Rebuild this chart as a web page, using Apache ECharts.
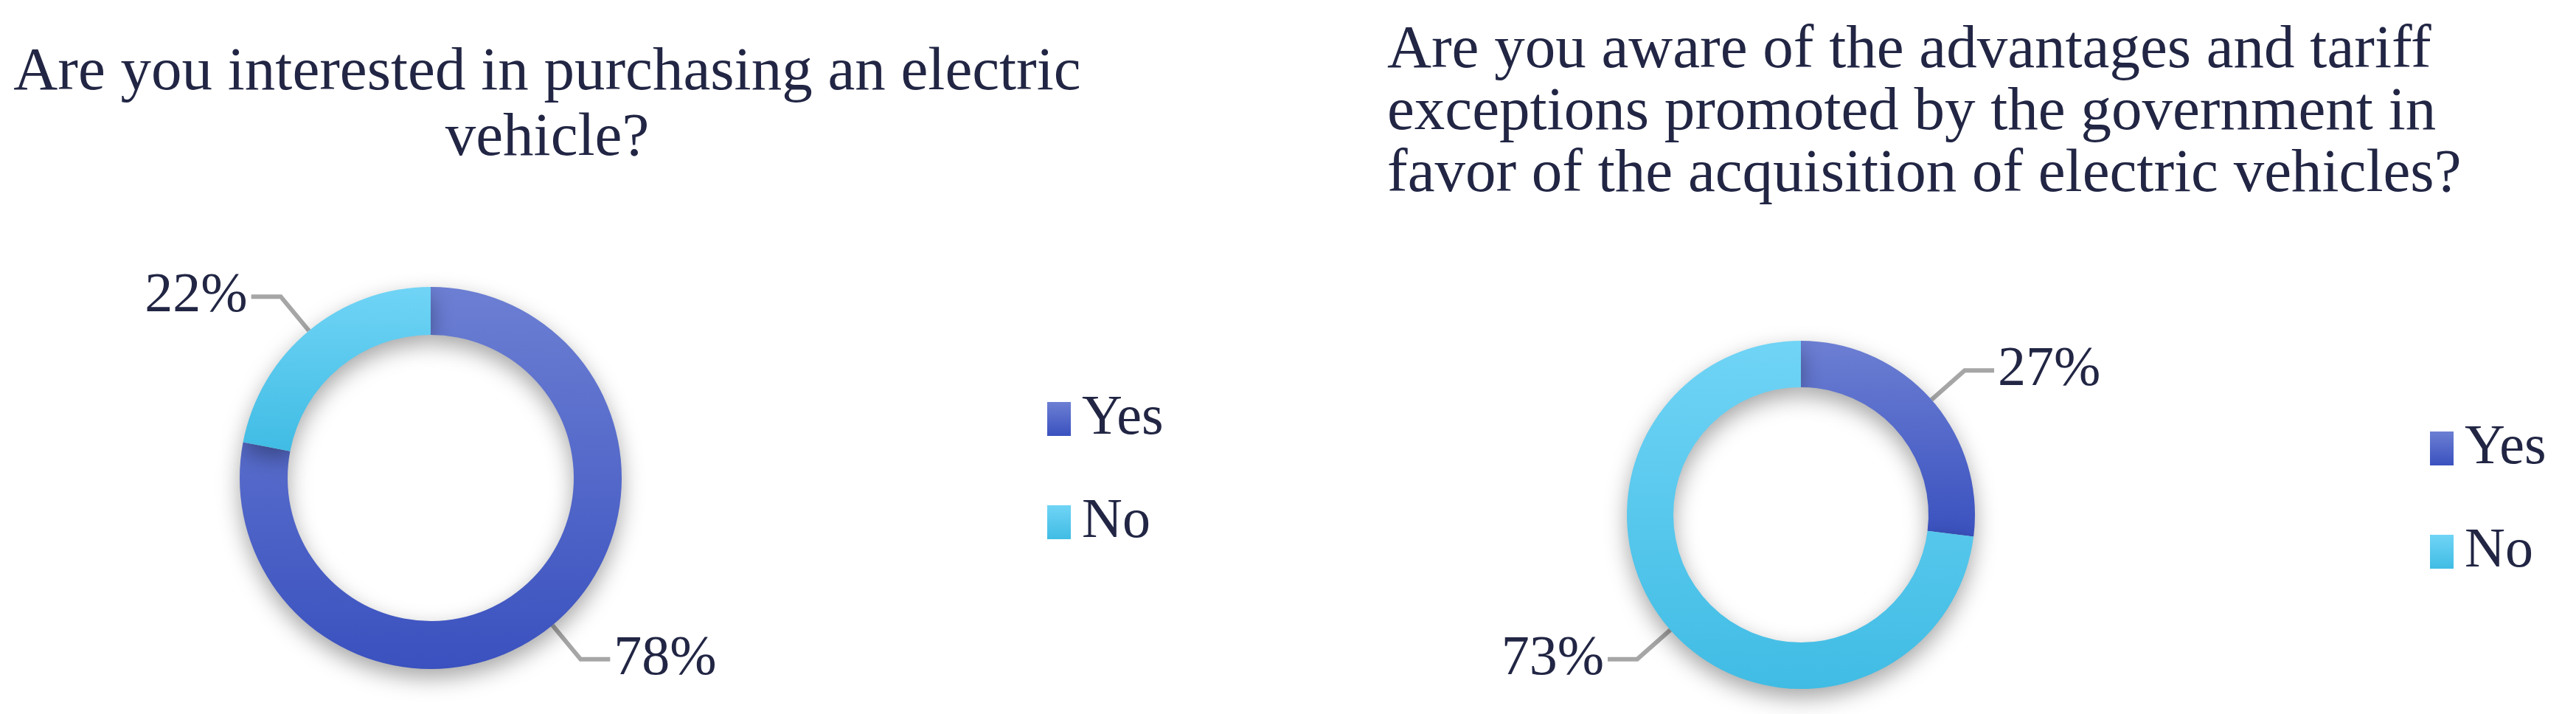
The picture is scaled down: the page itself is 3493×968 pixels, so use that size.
<!DOCTYPE html>
<html>
<head>
<meta charset="utf-8">
<script src="https://cdn.jsdelivr.net/npm/echarts@6/dist/echarts.min.js"></script>
<style>html,body{margin:0;padding:0;background:#fff}#main{width:3493px;height:968px}</style>
</head>
<body>
<div id="main"></div>
<script>
// survey answers
var categories = ['Yes', 'No'];
var interestValues = [78, 22];
var awareValues = [27, 73];
var titleLeft = 'Are you interested in purchasing an electric\nvehicle?';
var titleRight = 'Are you aware of the advantages and tariff\nexceptions promoted by the government in\nfavor of the acquisition of electric vehicles?';

var FONT = '"Liberation Serif", serif';
var INK = '#222644';

function grad(a, b) {
	return new echarts.graphic.LinearGradient(0, 0, 0, 1, [{offset: 0, color: a}, {offset: 1, color: b}]);
}
var colors = [grad('#6c7fd3', '#3a51bf'), grad('#70d4f6', '#40bce4')];

function makeData(values) {
	return categories.map(function (c, i) {
		return {name: c, value: values[i], itemStyle: {color: colors[i]}};
	});
}

function donut(center, radius, values) {
	return {
		type: 'pie',
		center: center,
		radius: radius,
		startAngle: 90,
		clockwise: true,
		avoidLabelOverlap: false,
		itemStyle: {shadowBlur: 30, shadowColor: 'rgba(0,0,0,0.35)', shadowOffsetY: 12},
		label: {
			show: true,
			formatter: '{c}%',
			fontFamily: FONT,
			fontSize: 76,
			color: INK
		},
		labelLine: {show: true, length: 60, length2: 40, lineStyle: {color: '#a6a6a6', width: 6}},
		data: makeData(values)
	};
}

function legend(left, top) {
	return {data: categories, orient: 'vertical', left: left, top: top, icon: 'rect',
		itemWidth: 32, itemHeight: 46, itemGap: 64,
		textStyle: {fontFamily: FONT, fontSize: 76, color: INK, padding: [0, 0, 0, 10]}};
}

var chart = echarts.init(document.getElementById('main'));
chart.setOption({
	animation: false,
	title: [
		{text: titleLeft, left: 737, top: 50, textAlign: 'center',
			textStyle: {fontFamily: FONT, fontWeight: 'normal', fontSize: 83, lineHeight: 89, color: INK, align: 'center'}},
		{text: titleRight, left: 1876, top: 22,
			textStyle: {fontFamily: FONT, fontWeight: 'normal', fontSize: 83, lineHeight: 84, color: INK}}
	],
	legend: [legend(1415, 525), legend(3290, 565)],
	series: [
		donut([584, 648], [194, 259], interestValues),
		donut([2442, 698], [173, 236], awareValues)
	]
});
</script>
</body>
</html>
